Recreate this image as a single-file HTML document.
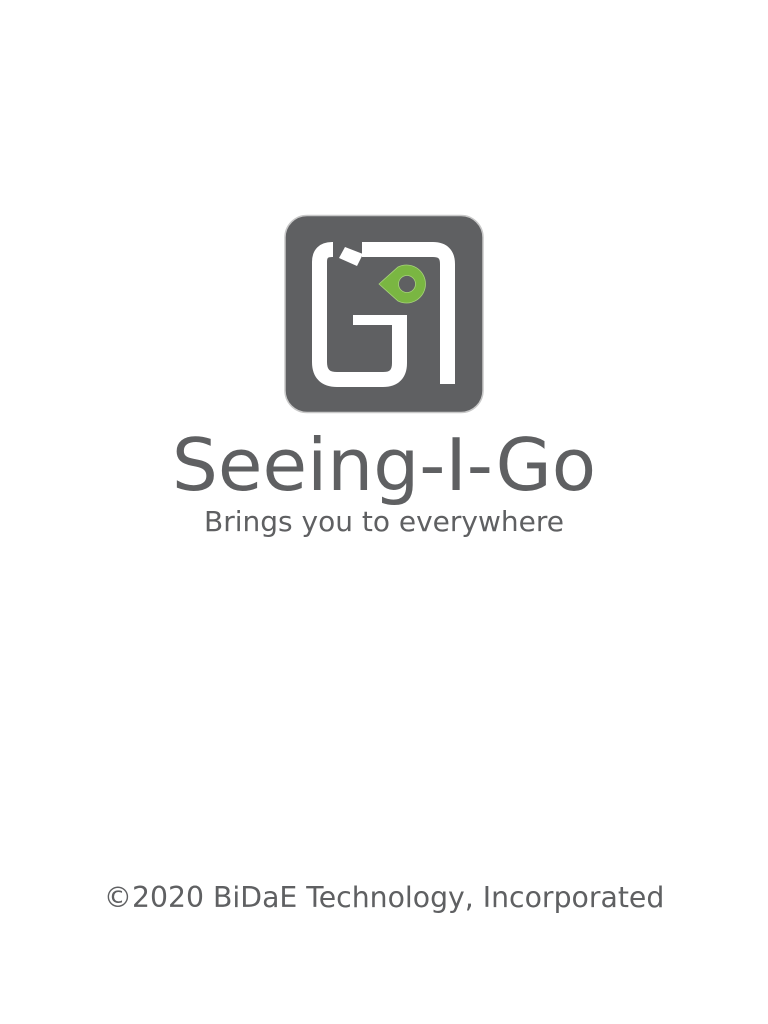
<!DOCTYPE html>
<html><head><meta charset="utf-8"><style>
html,body{margin:0;padding:0;background:#fff;}
body{width:768px;height:1024px;position:relative;overflow:hidden;font-family:"DejaVu Sans","Liberation Sans",sans-serif;color:#5f6062;}
.t{position:absolute;left:0;width:768px;text-align:center;white-space:nowrap;}
</style></head><body>
<svg width="768" height="430" style="position:absolute;left:0;top:0">
  <rect x="285" y="215.5" width="198" height="197" rx="22" fill="#5f6062" stroke="#c8c8c8" stroke-width="1.5"/>
  <g fill="none" stroke="#fff" stroke-width="15">
    <path d="M333 249.5 H332 Q319.5 249.5 319.5 262 V362 Q319.5 379.5 337 379.5 H383 Q399.5 379.5 399.5 363 V315"/>
    <path d="M362 249.5 H433 Q447.5 249.5 447.5 264 V384"/>
  </g>
  <rect x="353" y="315" width="54" height="10" fill="#fff"/>
  <polygon points="345,247 363,254 357,266 339,258" fill="#fff"/>
  <g>
    <path d="M379 284 L398 267 A19 19 0 1 1 398 301 Z" fill="#7ab642" stroke="#a6d27a" stroke-width="0.8"/>
    <circle cx="407" cy="284" r="8.5" fill="#5f6062" stroke="#a6d27a" stroke-width="0.8"/>
  </g>
</svg>
<div class="t" style="top:424px;font-size:72.5px;">Seeing-I-Go</div>
<div class="t" style="top:505px;font-size:28px;">Brings you to everywhere</div>
<div class="t" style="top:881px;font-size:28.3px;">©2020 BiDaE Technology, Incorporated</div>
</body></html>
